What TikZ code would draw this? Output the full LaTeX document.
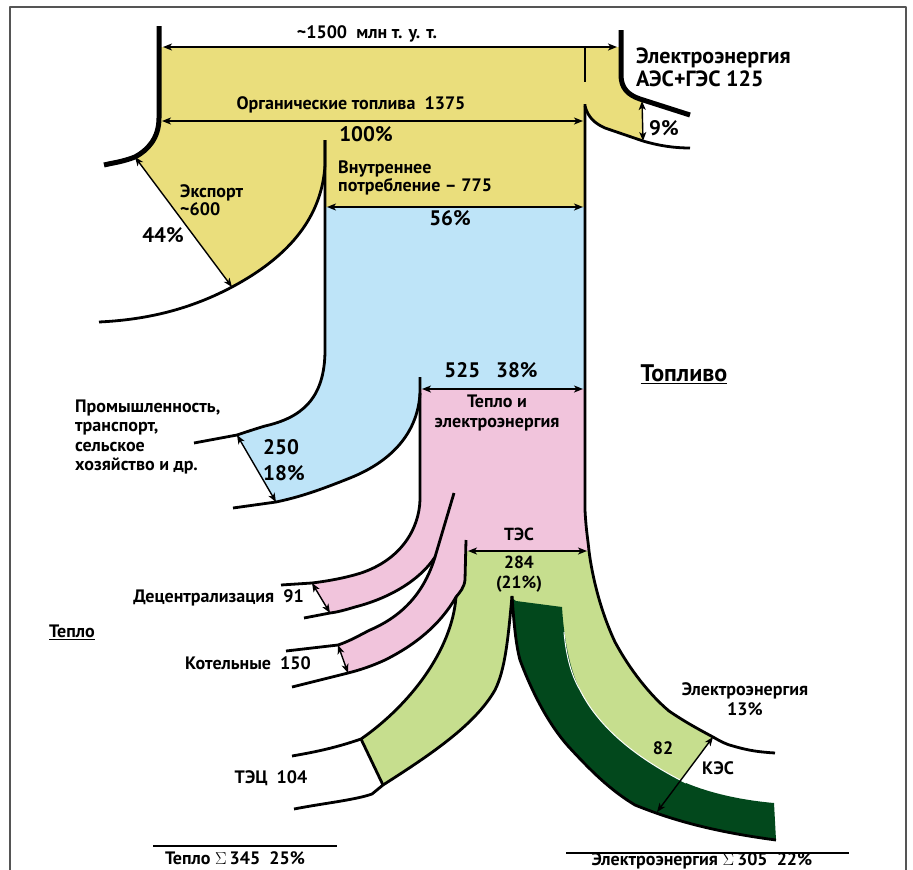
\documentclass[tikz,border=0pt]{standalone}
\usepackage{fontspec}
\setmainfont{PT Sans}
\usetikzlibrary{arrows.meta}

\definecolor{fuelyellow}{RGB}{234,222,124}
\definecolor{usesblue}{RGB}{190,228,248}
\definecolor{heatpink}{RGB}{241,196,220}
\definecolor{tesgreen}{RGB}{198,222,142}
\definecolor{kesgreen}{RGB}{2,72,28}
\definecolor{framegray}{RGB}{85,85,85}

\newcommand{\lblfont}{\bfseries\fontsize{18}{19.5}\selectfont}
\newcommand{\numfont}{\bfseries\fontsize{21}{26}\selectfont}
\newcommand{\smlfont}{\bfseries\fontsize{17.5}{20}\selectfont}

\begin{document}
\begin{tikzpicture}[x=1pt,y=-1pt,line join=round,
  flow/.style={line width=2.8pt},
  rim/.style={line width=5pt},
  dim/.style={line width=1.4pt,{Stealth[length=9pt,width=7pt,inset=2.5pt]}-{Stealth[length=9pt,width=7pt,inset=2.5pt]}},
  lbl/.style={font=\lblfont,inner sep=0pt},
  num/.style={font=\numfont,inner sep=0pt},
  sml/.style={font=\smlfont,inner sep=0pt}]
\useasboundingbox (0,0) rectangle (913,870);

\fill[fuelyellow] (159,47) -- (621,47) -- (621,75) .. controls (621,88) and (628,95) .. (640,99) -- (643,100)
  -- (643,141) -- (605,128) .. controls (596,124) and (588,118) .. (585,106) -- (585,207) -- (325,207)
  -- (325,165) .. controls (322,215) and (292,255) .. (232,287) -- (135,157)
  .. controls (148,150) and (159,138) .. (159,118) -- cycle;
\fill[usesblue] (325,207) -- (585,207) -- (585,389) -- (420,389) -- (420,393)
  .. controls (418,430) and (395,460) .. (350,478) .. controls (320,490) and (300,497) .. (276,502)
  -- (237,435) .. controls (246,432) and (255,429) .. (265,426) .. controls (300,418) and (325,400) .. (325,350) -- cycle;
\fill[heatpink] (420,389) -- (585,389) -- (585,510) .. controls (586,530) and (588,540) .. (589,551) -- (466,551)
  -- (465,580) .. controls (464,588) and (460,592) .. (456,597)
  .. controls (440,625) and (415,645) .. (385,660) .. controls (372,666) and (360,670) .. (348,673)
  -- (338,645) .. controls (350,641) and (360,635) .. (370,630) .. controls (405,615) and (425,590) .. (435,557)
  .. controls (420,580) and (390,598) .. (355,607) .. controls (345,610) and (338,612) .. (330,613)
  -- (312,583) .. controls (328,581) and (345,578) .. (361,573) .. controls (400,560) and (419,530) .. (420,500) -- cycle;
\fill[tesgreen] (466,551) -- (589,551) .. controls (592,575) and (600,610) .. (615,642)
  .. controls (630,670) and (650,695) .. (669,711) .. controls (685,722) and (700,730) .. (713,737)
  -- (657,812) -- (635,805) .. controls (610,790) and (590,770) .. (568,746)
  .. controls (552,728) and (535,700) .. (520,660) .. controls (516,645) and (514,625) .. (512,596)
  .. controls (508,640) and (505,670) .. (495,690) .. controls (475,725) and (430,755) .. (383,785)
  -- (361,739) .. controls (410,705) and (452,650) .. (456,597) .. controls (460,592) and (464,588) .. (465,580) -- cycle;
\fill[kesgreen] (516,601) -- (562,607) .. controls (564,640) and (570,670) .. (580,690)
  .. controls (600,730) and (640,760) .. (686,783) .. controls (710,793) and (740,800) .. (774,803)
  -- (776,840) .. controls (700,830) and (660,815) .. (635,805) .. controls (610,790) and (590,770) .. (568,746)
  .. controls (552,728) and (535,700) .. (520,660) .. controls (516,645) and (514,625) .. (512,598) -- cycle;
\draw[white,line width=1pt] (564,632) .. controls (566,655) and (571,675) .. (580,690)
  .. controls (600,730) and (640,760) .. (686,783);

\draw[rim] (159,26) -- (159,118) .. controls (159,138) and (148,150) .. (135,157) .. controls (122,162) and (112,163) .. (104,165);
\draw[rim] (621,30) -- (621,75) .. controls (621,88) and (628,95) .. (640,99) -- (690,115);

\draw[flow] (585,47) -- (585,82);
\draw[flow] (585,104) -- (585,510) .. controls (586,530) and (588,540) .. (589,551)
  .. controls (592,575) and (600,610) .. (615,642) .. controls (630,670) and (650,695) .. (669,711)
  .. controls (685,722) and (700,730) .. (713,737) .. controls (720,741) and (725,744) .. (733,746)
  .. controls (750,751) and (760,752) .. (775,753);
\draw[flow] (585,106) .. controls (588,118) and (596,124) .. (605,128) -- (643,141) .. controls (660,146) and (675,148) .. (690,148);
\draw[flow] (325,140) -- (325,165) .. controls (322,215) and (292,255) .. (232,287) .. controls (185,312) and (140,320) .. (99,322);
\draw[flow] (325,140) -- (325,350) .. controls (325,400) and (300,418) .. (265,426)
  .. controls (255,429) and (246,432) .. (237,435) -- (194,443);
\draw[flow] (420,377) -- (420,500) .. controls (419,530) and (400,560) .. (361,573)
  .. controls (345,578) and (328,581) .. (312,583) -- (281,585);
\draw[flow] (420,393) .. controls (418,430) and (395,460) .. (350,478)
  .. controls (320,490) and (300,497) .. (276,502) -- (233,508);
\draw[flow] (454,493) -- (435,557) .. controls (420,580) and (390,598) .. (355,607)
  .. controls (345,610) and (338,612) .. (330,613) -- (304,618);
\draw[flow] (435,557) .. controls (425,590) and (405,615) .. (370,630)
  .. controls (360,635) and (350,641) .. (338,645) -- (286,651);
\draw[flow] (466,540) -- (465,580) .. controls (464,588) and (460,592) .. (456,597)
  .. controls (440,625) and (415,645) .. (385,660) .. controls (372,666) and (360,670) .. (348,673) -- (292,687);
\draw[flow] (456,597) .. controls (452,650) and (410,705) .. (361,739) .. controls (335,748) and (315,752) .. (292,756);
\draw[flow] (361,739) -- (383,785);
\draw[flow] (294,809) .. controls (325,803) and (355,800) .. (372,794) -- (383,785)
  .. controls (430,755) and (475,725) .. (495,690) .. controls (505,670) and (508,640) .. (512,596);
\draw[flow] (512,596) .. controls (514,625) and (516,645) .. (520,660) .. controls (535,700) and (552,728) .. (568,746)
  .. controls (590,770) and (610,790) .. (635,805) .. controls (660,815) and (700,830) .. (776,840);

\coordinate (topL) at (163,47);   \coordinate (topR) at (617,47);
\coordinate (orgL) at (162,121);  \coordinate (orgR) at (583,121);
\coordinate (innL) at (327,207);  \coordinate (innR) at (583,207);
\coordinate (hetL) at (422,389);  \coordinate (hetR) at (583,389);
\coordinate (tesL) at (468,551);  \coordinate (tesR) at (587,551);
\coordinate (expA) at (135,157);  \coordinate (expB) at (232,287);
\coordinate (aesA) at (642,101);  \coordinate (aesB) at (643,141);
\coordinate (indA) at (237,435);  \coordinate (indB) at (276,502);
\coordinate (decA) at (312,583);  \coordinate (decB) at (330,613);
\coordinate (kotA) at (338,645);  \coordinate (kotB) at (348,673);
\coordinate (kesA) at (713,737);  \coordinate (kesB) at (657,812);
\foreach \a/\b in {topL/topR,orgL/orgR,innL/innR,hetL/hetR,tesL/tesR,expA/expB,aesA/aesB,indA/indB,decA/decB,kotA/kotB,kesA/kesB}
  \draw[dim] (\a) -- (\b);

\node[lbl] (total) at (367,34) {\textasciitilde1500\ \ млн т. у. т.};
\node[lbl] (organic) at (351,105) {Органические топлива\ \ 1375};
\node[num] (pc100) at (366,134) {100\%};
\node[lbl,anchor=west,align=left,font=\bfseries\fontsize{22}{23}\selectfont] (aes) at (636,67) {Электроэнергия\\АЭС+ГЭС 125};
\node[num] (pc9) at (664,128) {9\%};
\node[lbl,anchor=west,align=left,font=\bfseries\fontsize{18}{18}\selectfont] (inner) at (338,178) {Внутреннее\\потребление – 775};
\node[lbl,anchor=west,align=left,font=\bfseries\fontsize{18}{17.5}\selectfont] (export) at (180,200) {Экспорт\\\textasciitilde600};
\node[num] (pc44) at (163,235) {44\%};
\node[num] (pc56) at (450,218) {56\%};
\node[num] (pc38) at (491,370) {525\ \ \ 38\%};
\node[lbl,align=center] (heatel) at (497,413) {Тепло и\\электроэнергия};
\node[font=\bfseries\fontsize{24}{26}\selectfont,inner sep=0pt] (fuel) at (684,374) {\underline{Топливо}};
\node[lbl,anchor=west,align=left] (industry) at (75,437) {Промышленность,\\транспорт,\\сельское\\хозяйство и др.};
\node[num,anchor=west,align=left] (pc18) at (263,460) {250\\18\%};
\node[sml] (tes) at (519,534) {ТЭС};
\node[sml,align=center] (pc21) at (519,574) {284\\(21\%)};
\node[lbl,anchor=east] (decentr) at (304,598) {Децентрализация\ \ 91};
\node[lbl,anchor=east] (boiler) at (311,663) {Котельные\ \ 150};
\node[lbl] (heat) at (72,632) {\underline{Тепло}};
\node[lbl] (tec) at (271,778) {ТЭЦ\ \ 104};
\node[lbl,align=center] (el13) at (745,699) {Электроэнергия\\13\%};
\node[lbl] (kes82) at (663,748) {82};
\node[lbl] (kes) at (718,768) {КЭС};

\coordinate (hsumL) at (153,846); \coordinate (hsumR) at (337,846);
\coordinate (esumL) at (566,853); \coordinate (esumR) at (849,853);
\draw[line width=2.5pt] (hsumL) -- (hsumR);
\draw[line width=2.5pt] (esumL) -- (esumR);
\node[lbl,anchor=base] (heatsum) at (235,864) {Тепло $\Sigma$\,345\ \ 25\%};
\node[lbl,anchor=base] (elsum) at (702,865) {Электроэнергия $\Sigma$\,305\ \ 22\%};

\draw[framegray,line width=1.5pt] (10,870) -- (10,7) -- (906,7) -- (906,870);
\end{tikzpicture}
\end{document}
